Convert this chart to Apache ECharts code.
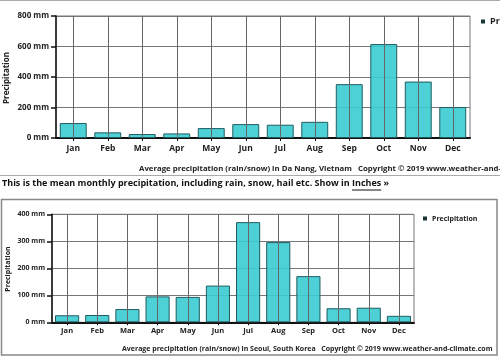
<!DOCTYPE html>
<html>
<head>
<meta charset="utf-8">
<script src="https://cdn.jsdelivr.net/npm/echarts@6/dist/echarts.min.js"></script>
<style>
html,body{margin:0;padding:0;background:#fff;}
#c{width:500px;height:357px;}
</style>
</head>
<body>
<div id="c"></div>
<script>
var months = ['Jan','Feb','Mar','Apr','May','Jun','Jul','Aug','Sep','Oct','Nov','Dec'];
var daNangValues = [98, 37, 26, 30, 65, 91, 87, 106, 353, 616, 370, 203];
var seoulValues = [26, 27, 49, 96, 94, 136, 371, 297, 171, 52, 54, 24];
var topTicks = {min: 0, max: 800, interval: 200};
var bottomTicks = {min: 0, max: 400, interval: 100};
var seriesName = 'Precipitation';
var topCaption = 'Average precipitation (rain/snow) in Da Nang, Vietnam   Copyright \u00a9 2019 www.weather-and-climate.com';
var bottomCaption = 'Average precipitation (rain/snow) in Seoul, South Korea   Copyright \u00a9 2019 www.weather-and-climate.com';
var middleText = 'This is the mean monthly precipitation, including rain, snow, hail etc. Show in ';
var linkText = 'Inches';
var linkTail = ' \u00bb';

var FONT = '"Open Sans", "DejaVu Sans", sans-serif';
var BAR = 'rgba(58,204,210,0.9)';
var BORDER = '#1f5c60';
var W = 'bold';

function measure(txt, size, weight) {
  var cv = document.createElement('canvas').getContext('2d');
  cv.font = weight + ' ' + size + 'px "Open Sans", "DejaVu Sans", sans-serif';
  return cv.measureText(txt).width;
}

var chart = echarts.init(document.getElementById('c'));

function yAxisCfg(grid, t, fs) {
  return {
    type: 'value', gridIndex: grid, min: t.min, max: t.max, interval: t.interval,
    axisLine: {show: true, lineStyle: {color: '#111', width: 1.5}},
    axisTick: {show: true, length: 5, lineStyle: {color: '#111', width: 1.5}},
    axisLabel: {formatter: '{value} mm', fontFamily: FONT, fontSize: fs, fontWeight: W, color: '#222', margin: 7},
    splitLine: {show: true, lineStyle: {color: '#777', width: 1}}
  };
}
function xAxisCfg(grid, fs, margin) {
  return {
    type: 'category', gridIndex: grid, data: months,
    axisLine: {show: true, lineStyle: {color: '#111', width: 2}},
    axisTick: {show: true, alignWithLabel: true, length: 3, lineStyle: {color: '#111'}},
    axisLabel: {fontFamily: FONT, fontSize: fs, fontWeight: W, color: '#222', margin: margin},
    splitLine: {show: false}
  };
}
function vLines() {
  return {
    silent: true, symbol: ['none', 'none'], label: {show: false},
    lineStyle: {color: '#666', width: 1, type: 'solid'},
    data: months.map(function (m) { return {xAxis: m}; })
  };
}
function axisName(x, y, fs) {
  return {type: 'text', x: x, y: y, rotation: Math.PI / 2, silent: true,
    style: {text: seriesName, fontFamily: FONT, fontSize: fs, fontWeight: W, fill: '#222', align: 'center', verticalAlign: 'middle'}};
}

var MID_FS = 9;
var midW = measure(middleText, MID_FS, W);
var linkW = measure(linkText, MID_FS, W);

chart.setOption({
  animation: false,
  backgroundColor: '#fff',
  grid: [
    {left: 56, top: 16, width: 414, height: 122, show: true, borderColor: '#777', borderWidth: 1},
    {left: 52, top: 214.3, width: 362, height: 108, show: true, borderColor: '#777', borderWidth: 1}
  ],
  xAxis: [xAxisCfg(0, 8.5, 6), xAxisCfg(1, 7.5, 5)],
  yAxis: [yAxisCfg(0, topTicks, 8), yAxisCfg(1, bottomTicks, 7)],
  legend: [
    {data: [seriesName], left: 481, top: 17, padding: 0, itemWidth: 4, itemHeight: 4, icon: 'rect',
     itemStyle: {color: '#1a3535', borderWidth: 0},
     textStyle: {fontFamily: FONT, fontSize: 9, fontWeight: W, color: '#222'}},
    {data: [seriesName], left: 423, top: 215, padding: 0, itemWidth: 4, itemHeight: 4, icon: 'rect',
     itemStyle: {color: '#1a3535', borderWidth: 0},
     textStyle: {fontFamily: FONT, fontSize: 7, fontWeight: W, color: '#222'}}
  ],
  series: [
    {name: seriesName, type: 'bar', xAxisIndex: 0, yAxisIndex: 0, data: daNangValues,
     barCategoryGap: '22%', itemStyle: {color: BAR, borderColor: BORDER, borderWidth: 1},
     markLine: vLines()},
    {name: seriesName, type: 'bar', xAxisIndex: 1, yAxisIndex: 1, data: seoulValues,
     barCategoryGap: '20%', itemStyle: {color: BAR, borderColor: BORDER, borderWidth: 1},
     markLine: vLines()}
  ],
  graphic: [
    {type: 'rect', shape: {x: -2, y: 0.5, width: 504, height: 175}, style: {fill: 'none', stroke: '#aaa', lineWidth: 1}, silent: true},
    {type: 'rect', shape: {x: 1.5, y: 199.5, width: 495.5, height: 155.5}, style: {fill: 'none', stroke: '#888', lineWidth: 1.5}, silent: true},
    axisName(7, 78, 8),
    axisName(8, 269, 7),
    {type: 'text', left: 139, top: 165, style: {text: topCaption, fontFamily: FONT, fontSize: 7.8, fontWeight: W, fill: '#222'}, silent: true},
    {type: 'text', left: 122, top: 345, style: {text: bottomCaption, fontFamily: FONT, fontSize: 7, fontWeight: W, fill: '#222'}, silent: true},
    {type: 'text', left: 2, top: 179, style: {text: middleText + linkText + linkTail, fontFamily: FONT, fontSize: MID_FS, fontWeight: W, fill: '#111'}, silent: true},
    {type: 'line', shape: {x1: 2 + midW, y1: 190, x2: 2 + midW + linkW, y2: 190}, style: {stroke: '#111', lineWidth: 1}, silent: true}
  ]
});
</script>
</body>
</html>
